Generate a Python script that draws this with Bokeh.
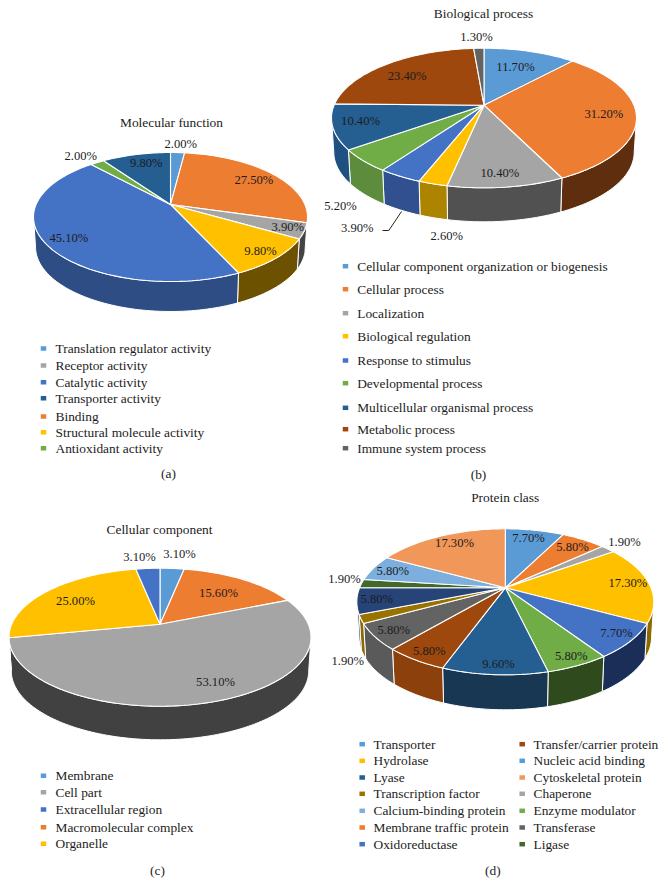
import math
from bokeh.plotting import figure
from bokeh.embed import file_html
from bokeh.resources import INLINE
from bokeh.core.properties import value

# ---------- palette ----------
LB, OR, GY, YE, BL, GR = "#5B9BD5", "#ED7D31", "#A5A5A5", "#FFC000", "#4472C4", "#70AD47"
DB, BR, DG, OL, NV, DGR = "#255E91", "#9E480E", "#636363", "#997300", "#264478", "#43682B"
LB2, LO = "#7CAFDD", "#F1975A"

# ---------- (a) Molecular function ----------
mf_title = "Molecular function"
mf_values = [2.0, 27.5, 3.9, 9.8, 45.1, 2.0, 9.8]
mf_labels = ["2.00%", "27.50%", "3.90%", "9.80%", "45.10%", "2.00%", "9.80%"]
mf_colors = [LB, OR, GY, YE, BL, GR, DB]
mf_walls = [LB, "#5E2E0E", "#444444", "#6B5100", "#2E4D85", GR, DB]
mf_legend = ["Translation regulator activity", "Receptor activity", "Catalytic activity",
             "Transporter activity", "Binding", "Structural molecule activity", "Antioxidant activity"]
mf_legend_colors = [LB, GY, BL, DB, OR, YE, GR]

# ---------- (b) Biological process ----------
bp_title = "Biological process"
bp_values = [11.7, 31.2, 10.4, 2.6, 3.9, 5.2, 10.4, 23.4, 1.3]
bp_labels = ["11.70%", "31.20%", "10.40%", "2.60%", "3.90%", "5.20%", "10.40%", "23.40%", "1.30%"]
bp_colors = [LB, OR, GY, YE, BL, GR, DB, BR, DG]
bp_walls = [LB, "#5E2E0E", "#515151", "#AD8400", "#305090", "#5C8C3C", "#1E5082", BR, DG]
bp_legend = ["Cellular component organization or biogenesis", "Cellular process", "Localization",
             "Biological regulation", "Response to stimulus", "Developmental process",
             "Multicellular organismal process", "Metabolic process", "Immune system process"]
bp_legend_colors = [LB, OR, GY, YE, BL, GR, DB, BR, DG]

# ---------- (c) Cellular component ----------
cc_title = "Cellular component"
cc_values = [3.1, 15.6, 53.1, 25.0, 3.1]
cc_labels = ["3.10%", "15.60%", "53.10%", "25.00%", "3.10%"]
cc_colors = [LB, OR, GY, YE, BL]
cc_walls = [LB, OR, "#414141", "#8A6A00", BL]
cc_legend = ["Membrane", "Cell part", "Extracellular region", "Macromolecular complex", "Organelle"]
cc_legend_colors = [LB, GY, BL, OR, YE]

# ---------- (d) Protein class ----------
pc_title = "Protein class"
pc_values = [7.7, 5.8, 1.9, 17.3, 7.7, 5.8, 9.6, 5.8, 5.8, 1.9, 5.8, 1.9, 5.8, 17.3]
pc_labels = ["7.70%", "5.80%", "1.90%", "17.30%", "7.70%", "5.80%", "9.60%", "5.80%", "5.80%",
             "1.90%", "5.80%", "1.90%", "5.80%", "17.30%"]
pc_colors = [LB, OR, GY, YE, BL, GR, DB, BR, DG, OL, NV, DGR, LB2, LO]
pc_walls = [LB, OR, GY, "#8C6A00", "#1B2E58", "#2F4B1E", "#173753", "#8C400C", "#5A5A5A",
            "#8C6A00", "#234070", DGR, LB2, LO]
pc_legend_1 = ["Transporter", "Hydrolase", "Lyase", "Transcription factor", "Calcium-binding protein",
               "Membrane traffic protein", "Oxidoreductase"]
pc_legend_1_colors = [LB, YE, DB, OL, LB2, OR, BL]
pc_legend_2 = ["Transfer/carrier protein", "Nucleic acid binding", "Cytoskeletal protein", "Chaperone",
               "Enzyme modulator", "Transferase", "Ligase"]
pc_legend_2_colors = [BR, LB, LO, GY, GR, DG, DGR]

# ---------- layout (page pixels) ----------
mf_geom = dict(ax=170, ay=204, rx=137, back=52, front=77, depth=30)
bp_geom = dict(ax=483.5, ay=104.7, rx=152.5, back=57, front=82.6, depth=34)
cc_geom = dict(ax=159.5, ay=623.7, rx=151, back=56, front=82, depth=33.6)
pc_geom = dict(ax=504.8, ay=587.3, rx=148.5, back=59, front=87, depth=35)

mf_label_xy = [(180.3, 143.3), (253.3, 179.3), (287.3, 226), (260, 250), (68.3, 237), (80.3, 155), (145.7, 162.3)]
bp_label_xy = [(515, 66), (603.3, 113.3), (499.3, 172), (446.3, 235), (356.7, 227.7), (340, 205), (360, 120),
               (406.7, 75.7), (476, 36.3)]
cc_label_xy = [(179, 553.7), (218, 592), (215, 681.7), (75, 600.7), (139, 556)]
pc_label_xy = [(528, 537.7), (572, 546), (624, 541.3), (627.3, 582.7), (616, 632.3), (570.7, 655), (498, 663.3),
               (428.7, 650), (393.3, 629), (347.3, 660.3), (376.3, 598.7), (344, 578.3), (392.3, 570.7), (454, 542.7)]

mf_legend_y = [348, 365, 381.7, 397.7, 416, 431.7, 447.7]
bp_legend_y = [265.7, 288.7, 312.7, 335.7, 360, 382.7, 407.3, 428.7, 447.7]
cc_legend_y = [775.3, 791.7, 809, 826.7, 843.3]
pc_legend_y = [743.7, 760.3, 777, 793.3, 810.3, 827, 843.7]

FONT = value("Liberation Serif")
TEXT = "#1c1c1c"

p = figure(width=664, height=888, x_range=(0, 664), y_range=(888, 0), output_backend="svg",
           toolbar_location=None, x_axis_location=None, y_axis_location=None, min_border=0,
           outline_line_color=None)
p.grid.visible = False


def put_text(xs, ys, texts, size="12.6px", align="center", color=TEXT):
    p.text(x=list(xs), y=list(ys), text=list(texts), text_font=FONT, text_font_size=size,
           text_align=align, text_baseline="middle", text_color=color)


def draw_pie(vals, colors, walls, ax, ay, rx, back, front, depth):
    d = (front + back) / (front - back)
    g = front * (d - 1)
    f = rx * math.sqrt(d * d - 1)
    shrink = 0.985

    def pt(t):
        u, v = math.sin(t), -math.cos(t)
        s = d - v
        return ax + f * u / s, ay + g * v / s

    total = sum(vals)
    edges = [0.0]
    for val in vals:
        edges.append(edges[-1] + val / total * 2 * math.pi)
    lo = math.acos(-1 / d)
    hi = 2 * math.pi - lo

    wx, wy, wc = [], [], []
    for i, col in enumerate(walls):
        a, b = max(edges[i], lo), min(edges[i + 1], hi)
        if b <= a:
            continue
        n = max(3, int((b - a) * 40))
        ts = [a + (b - a) * k / n for k in range(n + 1)]
        top = [pt(t) for t in ts]
        low = [(ax + (x - ax) * shrink, y + depth) for x, y in top]
        poly = top + low[::-1]
        wx.append([q[0] for q in poly])
        wy.append([q[1] for q in poly])
        wc.append(col)
    p.patches(wx, wy, fill_color=wc, line_color="white", line_width=1)

    sx, sy = [], []
    for i in range(len(vals)):
        a, b = edges[i], edges[i + 1]
        n = max(3, int((b - a) * 40))
        rim = [pt(a + (b - a) * k / n) for k in range(n + 1)]
        sx.append([ax] + [q[0] for q in rim])
        sy.append([ay] + [q[1] for q in rim])
    p.patches(sx, sy, fill_color=colors, line_color="white", line_width=1.1)


def draw_legend(names, cols, ys, sw_x, tx_x):
    p.rect(x=[sw_x] * len(names), y=ys, width=5.5, height=4.5, fill_color=cols, line_color=None)
    put_text([tx_x] * len(names), ys, names, size="13.4px", align="left")


draw_pie(mf_values, mf_colors, mf_walls, **mf_geom)
draw_pie(bp_values, bp_colors, bp_walls, **bp_geom)
draw_pie(cc_values, cc_colors, cc_walls, **cc_geom)
draw_pie(pc_values, pc_colors, pc_walls, **pc_geom)

for labels, xy in [(mf_labels, mf_label_xy), (bp_labels, bp_label_xy), (cc_labels, cc_label_xy), (pc_labels, pc_label_xy)]:
    put_text([q[0] for q in xy], [q[1] for q in xy], labels)

put_text([171, 483, 159, 504.7], [121.7, 12.7, 529, 496.7], [mf_title, bp_title, cc_title, pc_title], size="13.4px")
put_text([168, 478, 157, 492.3], [473, 474, 870, 870], ["(a)", "(b)", "(c)", "(d)"], size="13.4px")

# leader line of the 3.90% label in (b)
p.line([401, 388.3, 382], [211, 230, 230], line_color="#262626", line_width=1)

draw_legend(mf_legend, mf_legend_colors, mf_legend_y, 43, 55)
draw_legend(bp_legend, bp_legend_colors, bp_legend_y, 345, 356.7)
draw_legend(cc_legend, cc_legend_colors, cc_legend_y, 43, 55)
draw_legend(pc_legend_1, pc_legend_1_colors, pc_legend_y, 361.7, 373)
draw_legend(pc_legend_2, pc_legend_2_colors, pc_legend_y, 521.7, 533)

open("out.html", "w").write(file_html(p, INLINE))
